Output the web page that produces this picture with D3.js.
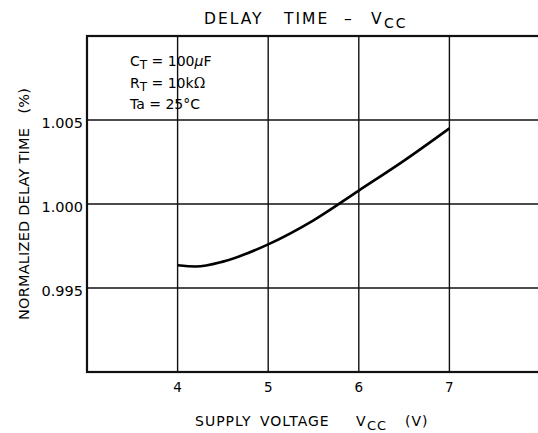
<!DOCTYPE html>
<html>
<head>
<meta charset="utf-8">
<script src="https://cdn.jsdelivr.net/npm/d3@7"></script>
<style>
  body { margin: 0; background: #fff; }
  text { font-family: "DejaVu Sans", sans-serif; fill: #000; white-space: pre; }
</style>
</head>
<body>
<div id="chart"></div>
<script>
// data
var vcc = [4.0, 4.2, 4.5, 5.0, 5.5, 6.0, 6.5, 7.0];
var delay = [0.99635, 0.99628, 0.99657, 0.99760, 0.99903, 1.00080, 1.00258, 1.00450];
var xTicks = [4, 5, 6, 7];
var yTicks = [0.995, 1.000, 1.005];
var notes = [['C', 'T', ' = 100', 'μ', 'F'], ['R', 'T', ' = 10k', 'Ω', ''], ['Ta = 25°C', '', '', '', '']];
// title / axis title pieces: text, x start, subscript
var titleParts = [['DELAY', 204, 0], ['TIME', 284, 0], ['–', 344, 0], ['V', 371, 0], ['CC', 384, 1]];
var xLabelParts = [['SUPPLY', 195, 0], ['VOLTAGE', 260, 0], ['V', 356, 0], ['CC', 367, 1], ['(V)', 405, 0]];

var width = 538,
	height = 433;

var svg = d3.select('#chart')
			.append('svg')
			.attr('width', width)
			.attr('height', height);

var x = d3.scaleLinear().domain([3, 8]).range([87, 540]);
var y = d3.scaleLinear().domain([0.990, 1.010]).range([372, 36]);

// grid
svg.append('g').selectAll('line')
	.data(xTicks).enter()
	.append('line')
	.attr('x1', d => x(d)).attr('x2', d => x(d))
	.attr('y1', y(1.010)).attr('y2', y(0.990))
	.attr('stroke', '#111').attr('stroke-width', 1.4);

svg.append('g').selectAll('line')
	.data(yTicks).enter()
	.append('line')
	.attr('x1', x(3)).attr('x2', x(8))
	.attr('y1', d => y(d)).attr('y2', d => y(d))
	.attr('stroke', '#111').attr('stroke-width', 1.4);

// frame
svg.append('rect')
	.attr('x', x(3)).attr('y', y(1.010))
	.attr('width', x(8) - x(3)).attr('height', y(0.990) - y(1.010))
	.attr('fill', 'none').attr('stroke', '#111').attr('stroke-width', 2.2);

// tick labels
svg.append('g').selectAll('text')
	.data(yTicks).enter()
	.append('text')
	.attr('x', x(3) - 4).attr('y', d => y(d) + 7.5)
	.attr('text-anchor', 'end').attr('font-size', 14.5)
	.text(d => d3.format('.3f')(d));

svg.append('g').selectAll('text')
	.data(xTicks).enter()
	.append('text')
	.attr('x', d => x(d)).attr('y', 392)
	.attr('text-anchor', 'middle').attr('font-size', 13.5)
	.text(d => d);

// curve
var line = d3.line()
	.x((d, i) => x(vcc[i]))
	.y(d => y(d))
	.curve(d3.curveMonotoneX);

svg.append('path')
	.datum(delay)
	.attr('d', line)
	.attr('fill', 'none')
	.attr('stroke', '#000')
	.attr('stroke-width', 2.6);

// title and x axis title, placed word by word
function words(parts, base, size, subSize, spacing) {
	var t = svg.append('text').attr('y', base).attr('font-size', size)
		.style('letter-spacing', spacing + 'px');
	parts.forEach(function(p) {
		t.append('tspan')
			.attr('x', p[1])
			.attr('y', base + (p[2] ? 4 : 0))
			.attr('font-size', p[2] ? subSize : size)
			.text(p[0]);
	});
}
words(titleParts, 24, 15.5, 14, 2);
words(xLabelParts, 426, 14, 13, 1);

svg.append('text')
	.attr('transform', 'translate(29,' + 320 + ') rotate(-90)')
	.attr('font-size', 14.5)
	.attr('textLength', 232)
	.attr('lengthAdjust', 'spacing')
	.text('NORMALIZED DELAY TIME   (%)');

// conditions
var noteG = svg.append('g');
notes.forEach(function(n, i) {
	var t = noteG.append('text')
		.attr('x', 130).attr('y', 66 + i * 21.5)
		.attr('font-size', 14);
	t.append('tspan').text(n[0]);
	if (n[1]) {
		t.append('tspan').attr('dy', 3).attr('font-size', 12).text(n[1]);
		t.append('tspan').attr('dy', -3).text(n[2]);
		t.append('tspan').attr('font-style', n[3] === 'μ' ? 'italic' : 'normal')
			.attr('font-family', n[3] === 'Ω' ? 'DejaVu Serif, serif' : null).text(n[3]);
		t.append('tspan').text(n[4]);
	}
});
</script>
</body>
</html>
